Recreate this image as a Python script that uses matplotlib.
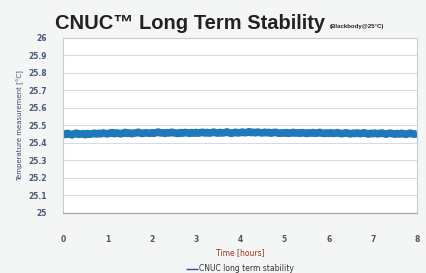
#!/usr/bin/env python3
import matplotlib
matplotlib.use('Agg')
import matplotlib.pyplot as plt

# time in hours, temperature readings in degC
hours = [i * 0.05 for i in range(161)]
temps = [25.452, 25.448, 25.455, 25.450, 25.446, 25.452, 25.456, 25.449, 25.451, 25.453,
         25.447, 25.454, 25.450, 25.452, 25.456, 25.451, 25.455, 25.452, 25.457, 25.454,
         25.452, 25.456, 25.459, 25.453, 25.457, 25.455, 25.452, 25.456, 25.460, 25.455,
         25.457, 25.453, 25.456, 25.458, 25.461, 25.456, 25.454, 25.458, 25.457, 25.455,
         25.458, 25.455, 25.459, 25.462, 25.457, 25.458, 25.455, 25.459, 25.457, 25.461,
         25.458, 25.456, 25.454, 25.459, 25.456, 25.460, 25.458, 25.455, 25.459, 25.456,
         25.460, 25.456, 25.459, 25.461, 25.457, 25.460, 25.456, 25.458, 25.462, 25.458,
         25.456, 25.460, 25.457, 25.459, 25.463, 25.458, 25.455, 25.458, 25.461, 25.457,
         25.459, 25.462, 25.458, 25.460, 25.464, 25.459, 25.461, 25.458, 25.462, 25.459,
         25.457, 25.461, 25.458, 25.460, 25.456, 25.459, 25.461, 25.457, 25.455, 25.458,
         25.456, 25.459, 25.455, 25.457, 25.460, 25.456, 25.458, 25.455, 25.459, 25.457,
         25.454, 25.458, 25.456, 25.459, 25.455, 25.457, 25.460, 25.456, 25.454, 25.457,
         25.455, 25.458, 25.454, 25.456, 25.459, 25.455, 25.453, 25.456, 25.458, 25.454,
         25.452, 25.456, 25.454, 25.457, 25.453, 25.455, 25.458, 25.454, 25.451, 25.455,
         25.453, 25.456, 25.452, 25.454, 25.457, 25.453, 25.450, 25.454, 25.456, 25.452,
         25.450, 25.454, 25.451, 25.455, 25.452, 25.449, 25.453, 25.456, 25.452, 25.450,
         25.453]
yticks = [25, 25.1, 25.2, 25.3, 25.4, 25.5, 25.6, 25.7, 25.8, 25.9, 26]
ytick_labels = ['25', '25.1', '25.2', '25.3', '25.4', '25.5', '25.6', '25.7', '25.8', '25.9', '26']
xticks = [0, 1, 2, 3, 4, 5, 6, 7, 8]

title_font = ['Liberation Sans', 'DejaVu Sans']

fig = plt.figure(figsize=(4.27, 2.73), dpi=100)
fig.patch.set_facecolor('#f4f6f6')
ax = fig.add_axes([0.148, 0.22, 0.829, 0.641])
ax.set_facecolor('white')

ax.plot(hours, temps, color='#1f78b8', linewidth=5.5, solid_capstyle='butt',
        label='CNUC long term stability')

ax.set_xlim(0, 8)
ax.set_ylim(25, 26)
ax.set_yticks(yticks)
ax.set_yticklabels(ytick_labels)
ax.set_xticks(xticks)
ax.grid(axis='y', color='#d8dcdc', linewidth=0.8)
ax.tick_params(axis='y', length=0, labelsize=5.5, colors='#4a5a78', pad=12)
ax.tick_params(axis='x', length=0, labelsize=5.5, colors='#555555', pad=16)
for lab in ax.get_yticklabels() + ax.get_xticklabels():
    lab.set_fontweight('bold')
for s in ['top', 'right']:
    ax.spines[s].set_color('#c8cccc')
ax.spines['left'].set_color('#c8cccc')
ax.spines['bottom'].set_color('#a0a4a4')

ax.set_ylabel('Temperature measurement [°C]', fontsize=5, color='#3a4a6a', labelpad=3)
ax.set_xlabel('Time [hours]', fontsize=5.5, color='#a03020', labelpad=3)

fig.text(0.129, 0.915, 'CNUC™ Long Term Stability', fontsize=14.5, fontweight='bold',
         family=title_font, color='#222222', ha='left', va='center')
fig.text(0.773, 0.903, '(Blackbody@25°C)', fontsize=4.4, fontweight='bold',
         family=title_font, color='#222222', ha='left', va='center')

ax.legend(loc='upper center', bbox_to_anchor=(0.5, -0.255), frameon=False,
          fontsize=5.5, handlelength=1.5, handletextpad=0.2, labelcolor='#333333')
for line in ax.get_legend().get_lines():
    line.set_linewidth(1)
    line.set_color('#2a4a9a')

fig.savefig('out.png', dpi=100, facecolor=fig.get_facecolor())
